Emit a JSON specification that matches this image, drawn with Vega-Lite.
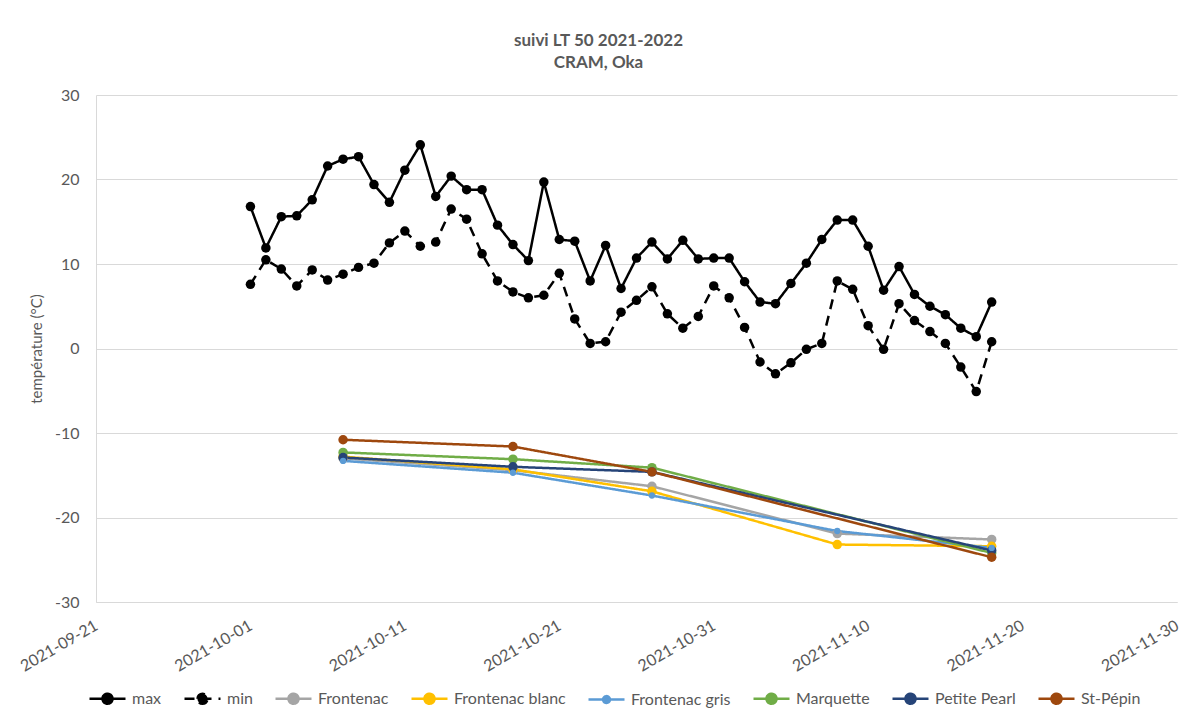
{
  "$schema": "https://vega.github.io/schema/vega-lite/v6.json",
  "autosize": {"type": "none"},
  "width": 1081,
  "height": 507,
  "padding": {"left": 96, "top": 95, "right": 17, "bottom": 113},
  "background": "white",
  "config": {
    "font": "Lato",
    "view": {"stroke": null},
    "axis": {"labelFont": "Lato", "titleFont": "Lato"}
  },
  "title": {
    "text": ["suivi LT 50 2021-2022", "CRAM, Oka"],
    "fontSize": 17,
    "fontWeight": "bold",
    "color": "#595959",
    "anchor": "middle",
    "frame": "group",
    "dx": -38,
    "offset": 15,
    "lineHeight": 22
  },
  "data": {
    "values": [
      {"date": "2021-10-01", "series": "max", "value": 16.8},
      {"date": "2021-10-02", "series": "max", "value": 11.9},
      {"date": "2021-10-03", "series": "max", "value": 15.6},
      {"date": "2021-10-04", "series": "max", "value": 15.7},
      {"date": "2021-10-05", "series": "max", "value": 17.6},
      {"date": "2021-10-06", "series": "max", "value": 21.6},
      {"date": "2021-10-07", "series": "max", "value": 22.4},
      {"date": "2021-10-08", "series": "max", "value": 22.7},
      {"date": "2021-10-09", "series": "max", "value": 19.4},
      {"date": "2021-10-10", "series": "max", "value": 17.3},
      {"date": "2021-10-11", "series": "max", "value": 21.1},
      {"date": "2021-10-12", "series": "max", "value": 24.1},
      {"date": "2021-10-13", "series": "max", "value": 18.0},
      {"date": "2021-10-14", "series": "max", "value": 20.4},
      {"date": "2021-10-15", "series": "max", "value": 18.8},
      {"date": "2021-10-16", "series": "max", "value": 18.8},
      {"date": "2021-10-17", "series": "max", "value": 14.6},
      {"date": "2021-10-18", "series": "max", "value": 12.3},
      {"date": "2021-10-19", "series": "max", "value": 10.4},
      {"date": "2021-10-20", "series": "max", "value": 19.7},
      {"date": "2021-10-21", "series": "max", "value": 12.9},
      {"date": "2021-10-22", "series": "max", "value": 12.7},
      {"date": "2021-10-23", "series": "max", "value": 8.0},
      {"date": "2021-10-24", "series": "max", "value": 12.2},
      {"date": "2021-10-25", "series": "max", "value": 7.1},
      {"date": "2021-10-26", "series": "max", "value": 10.7},
      {"date": "2021-10-27", "series": "max", "value": 12.6},
      {"date": "2021-10-28", "series": "max", "value": 10.6},
      {"date": "2021-10-29", "series": "max", "value": 12.8},
      {"date": "2021-10-30", "series": "max", "value": 10.6},
      {"date": "2021-10-31", "series": "max", "value": 10.7},
      {"date": "2021-11-01", "series": "max", "value": 10.7},
      {"date": "2021-11-02", "series": "max", "value": 7.9},
      {"date": "2021-11-03", "series": "max", "value": 5.5},
      {"date": "2021-11-04", "series": "max", "value": 5.3},
      {"date": "2021-11-05", "series": "max", "value": 7.7},
      {"date": "2021-11-06", "series": "max", "value": 10.1},
      {"date": "2021-11-07", "series": "max", "value": 12.9},
      {"date": "2021-11-08", "series": "max", "value": 15.2},
      {"date": "2021-11-09", "series": "max", "value": 15.2},
      {"date": "2021-11-10", "series": "max", "value": 12.1},
      {"date": "2021-11-11", "series": "max", "value": 6.9},
      {"date": "2021-11-12", "series": "max", "value": 9.7},
      {"date": "2021-11-13", "series": "max", "value": 6.4},
      {"date": "2021-11-14", "series": "max", "value": 5.0},
      {"date": "2021-11-15", "series": "max", "value": 4.0},
      {"date": "2021-11-16", "series": "max", "value": 2.4},
      {"date": "2021-11-17", "series": "max", "value": 1.4},
      {"date": "2021-11-18", "series": "max", "value": 5.5},
      {"date": "2021-10-01", "series": "min", "value": 7.6},
      {"date": "2021-10-02", "series": "min", "value": 10.5},
      {"date": "2021-10-03", "series": "min", "value": 9.4},
      {"date": "2021-10-04", "series": "min", "value": 7.4},
      {"date": "2021-10-05", "series": "min", "value": 9.3},
      {"date": "2021-10-06", "series": "min", "value": 8.1},
      {"date": "2021-10-07", "series": "min", "value": 8.8},
      {"date": "2021-10-08", "series": "min", "value": 9.6},
      {"date": "2021-10-09", "series": "min", "value": 10.1},
      {"date": "2021-10-10", "series": "min", "value": 12.5},
      {"date": "2021-10-11", "series": "min", "value": 13.9},
      {"date": "2021-10-12", "series": "min", "value": 12.1},
      {"date": "2021-10-13", "series": "min", "value": 12.6},
      {"date": "2021-10-14", "series": "min", "value": 16.5},
      {"date": "2021-10-15", "series": "min", "value": 15.3},
      {"date": "2021-10-16", "series": "min", "value": 11.2},
      {"date": "2021-10-17", "series": "min", "value": 8.0},
      {"date": "2021-10-18", "series": "min", "value": 6.7},
      {"date": "2021-10-19", "series": "min", "value": 6.0},
      {"date": "2021-10-20", "series": "min", "value": 6.3},
      {"date": "2021-10-21", "series": "min", "value": 8.9},
      {"date": "2021-10-22", "series": "min", "value": 3.5},
      {"date": "2021-10-23", "series": "min", "value": 0.6},
      {"date": "2021-10-24", "series": "min", "value": 0.8},
      {"date": "2021-10-25", "series": "min", "value": 4.3},
      {"date": "2021-10-26", "series": "min", "value": 5.7},
      {"date": "2021-10-27", "series": "min", "value": 7.3},
      {"date": "2021-10-28", "series": "min", "value": 4.1},
      {"date": "2021-10-29", "series": "min", "value": 2.4},
      {"date": "2021-10-30", "series": "min", "value": 3.8},
      {"date": "2021-10-31", "series": "min", "value": 7.4},
      {"date": "2021-11-01", "series": "min", "value": 6.0},
      {"date": "2021-11-02", "series": "min", "value": 2.5},
      {"date": "2021-11-03", "series": "min", "value": -1.6},
      {"date": "2021-11-04", "series": "min", "value": -3.0},
      {"date": "2021-11-05", "series": "min", "value": -1.7},
      {"date": "2021-11-06", "series": "min", "value": -0.1},
      {"date": "2021-11-07", "series": "min", "value": 0.6},
      {"date": "2021-11-08", "series": "min", "value": 8.0},
      {"date": "2021-11-09", "series": "min", "value": 7.0},
      {"date": "2021-11-10", "series": "min", "value": 2.7},
      {"date": "2021-11-11", "series": "min", "value": -0.1},
      {"date": "2021-11-12", "series": "min", "value": 5.3},
      {"date": "2021-11-13", "series": "min", "value": 3.3},
      {"date": "2021-11-14", "series": "min", "value": 2.0},
      {"date": "2021-11-15", "series": "min", "value": 0.6},
      {"date": "2021-11-16", "series": "min", "value": -2.2},
      {"date": "2021-11-17", "series": "min", "value": -5.1},
      {"date": "2021-11-18", "series": "min", "value": 0.8},
      {"date": "2021-10-07", "series": "Frontenac", "value": -13.0},
      {"date": "2021-10-18", "series": "Frontenac", "value": -14.4},
      {"date": "2021-10-27", "series": "Frontenac", "value": -16.3},
      {"date": "2021-11-08", "series": "Frontenac", "value": -21.9},
      {"date": "2021-11-18", "series": "Frontenac", "value": -22.6},
      {"date": "2021-10-07", "series": "Frontenac blanc", "value": -12.8},
      {"date": "2021-10-18", "series": "Frontenac blanc", "value": -14.3},
      {"date": "2021-10-27", "series": "Frontenac blanc", "value": -16.9},
      {"date": "2021-11-08", "series": "Frontenac blanc", "value": -23.2},
      {"date": "2021-11-18", "series": "Frontenac blanc", "value": -23.4},
      {"date": "2021-10-07", "series": "Frontenac gris", "value": -13.3},
      {"date": "2021-10-18", "series": "Frontenac gris", "value": -14.7},
      {"date": "2021-10-27", "series": "Frontenac gris", "value": -17.4},
      {"date": "2021-11-08", "series": "Frontenac gris", "value": -21.6},
      {"date": "2021-11-18", "series": "Frontenac gris", "value": -23.6},
      {"date": "2021-10-07", "series": "Marquette", "value": -12.3},
      {"date": "2021-10-18", "series": "Marquette", "value": -13.1},
      {"date": "2021-10-27", "series": "Marquette", "value": -14.1},
      {"date": "2021-11-18", "series": "Marquette", "value": -24.2},
      {"date": "2021-10-07", "series": "Petite Pearl", "value": -12.9},
      {"date": "2021-10-18", "series": "Petite Pearl", "value": -14.0},
      {"date": "2021-10-27", "series": "Petite Pearl", "value": -14.6},
      {"date": "2021-11-18", "series": "Petite Pearl", "value": -23.9},
      {"date": "2021-10-07", "series": "St-Pépin", "value": -10.8},
      {"date": "2021-10-18", "series": "St-Pépin", "value": -11.6},
      {"date": "2021-10-27", "series": "St-Pépin", "value": -14.6},
      {"date": "2021-11-18", "series": "St-Pépin", "value": -24.7}
    ]
  },
  "encoding": {
    "x": {
      "field": "date",
      "type": "temporal",
      "scale": {
        "type": "utc",
        "domain": [
          {"year": 2021, "month": 9, "date": 21, "utc": true},
          {"year": 2021, "month": 11, "date": 30, "utc": true}
        ]
      },
      "axis": {
        "title": null,
        "format": "%Y-%m-%d",
        "values": [
          {"year": 2021, "month": 9, "date": 21, "utc": true},
          {"year": 2021, "month": 10, "date": 1, "utc": true},
          {"year": 2021, "month": 10, "date": 11, "utc": true},
          {"year": 2021, "month": 10, "date": 21, "utc": true},
          {"year": 2021, "month": 10, "date": 31, "utc": true},
          {"year": 2021, "month": 11, "date": 10, "utc": true},
          {"year": 2021, "month": 11, "date": 20, "utc": true},
          {"year": 2021, "month": 11, "date": 30, "utc": true}
        ],
        "labelAngle": -30,
        "labelAlign": "right",
        "labelBaseline": "middle",
        "labelPadding": 22,
        "labelFontSize": 16,
        "labelColor": "#595959",
        "labelOverlap": false,
        "labelFlush": false,
        "ticks": false,
        "tickSize": 0,
        "grid": false,
        "domainColor": "#D9D9D9",
        "domainWidth": 1
      }
    },
    "y": {
      "field": "value",
      "type": "quantitative",
      "scale": {"domain": [-30, 30], "nice": false, "zero": false},
      "axis": {
        "title": "température (°C)",
        "titleFontSize": 15,
        "titleFontWeight": "normal",
        "titleColor": "#595959",
        "titlePadding": 10,
        "values": [-30, -20, -10, 0, 10, 20, 30],
        "labelExpr": "'' + datum.value",
        "labelFontSize": 16,
        "labelColor": "#595959",
        "labelPadding": 17,
        "ticks": false,
        "tickSize": 0,
        "grid": true,
        "gridColor": "#D9D9D9",
        "gridWidth": 1,
        "domainColor": "#D9D9D9",
        "domainWidth": 1
      }
    },
    "color": {
      "field": "series",
      "type": "nominal",
      "scale": {
        "domain": ["max", "min", "Frontenac", "Frontenac blanc", "Frontenac gris", "Marquette", "Petite Pearl", "St-Pépin"],
        "range": ["#000000", "#000000", "#A5A5A5", "#FFC000", "#5B9BD5", "#70AD47", "#264478", "#9E480E"]
      },
      "legend": {
        "orient": "none",
        "legendX": -8,
        "legendY": 584,
        "direction": "horizontal",
        "columns": 8,
        "title": null,
        "symbolType": "M-1,0L1,0M-0.28,0A0.28,0.28,0,1,1,0.28,0A0.28,0.28,0,1,1,-0.28,0Z",
        "symbolSize": 1296,
        "symbolStrokeWidth": 2.5,
        "labelFontSize": 16,
        "labelColor": "#595959",
        "labelFont": "Lato",
        "labelOffset": 5,
        "columnPadding": 17,
        "encode": {
          "symbols": {
            "update": {
              "fill": {"scale": "color", "field": "value"},
              "stroke": {"scale": "color", "field": "value"},
              "opacity": {"value": 1},
              "size": {"value": 1296},
              "strokeDash": {"signal": "datum.value === 'min' ? [8,5] : [1,0]"},
              "shape": {"signal": "datum.value === 'Frontenac gris' ? 'M-1,0L1,0M-0.19,0A0.19,0.19,0,1,1,0.19,0A0.19,0.19,0,1,1,-0.19,0Z' : 'M-1,0L1,0M-0.28,0A0.28,0.28,0,1,1,0.28,0A0.28,0.28,0,1,1,-0.28,0Z'"}
            }
          }
        }
      }
    }
  },
  "layer": [
    {
      "mark": {"type": "line", "strokeWidth": 2.5},
      "encoding": {
        "strokeDash": {
          "field": "series",
          "type": "nominal",
          "scale": {
            "domain": ["max", "min", "Frontenac", "Frontenac blanc", "Frontenac gris", "Marquette", "Petite Pearl", "St-Pépin"],
            "range": [[1, 0], [10, 7], [1, 0], [1, 0], [1, 0], [1, 0], [1, 0], [1, 0]]
          },
          "legend": null
        }
      }
    },
    {
      "transform": [{"filter": "datum.series !== 'Frontenac gris'"}],
      "mark": {"type": "circle", "opacity": 1, "size": 90},
      "encoding": {}
    },
    {
      "transform": [{"filter": "datum.series === 'Frontenac gris'"}],
      "mark": {"type": "circle", "opacity": 1, "size": 40},
      "encoding": {}
    }
  ]
}
